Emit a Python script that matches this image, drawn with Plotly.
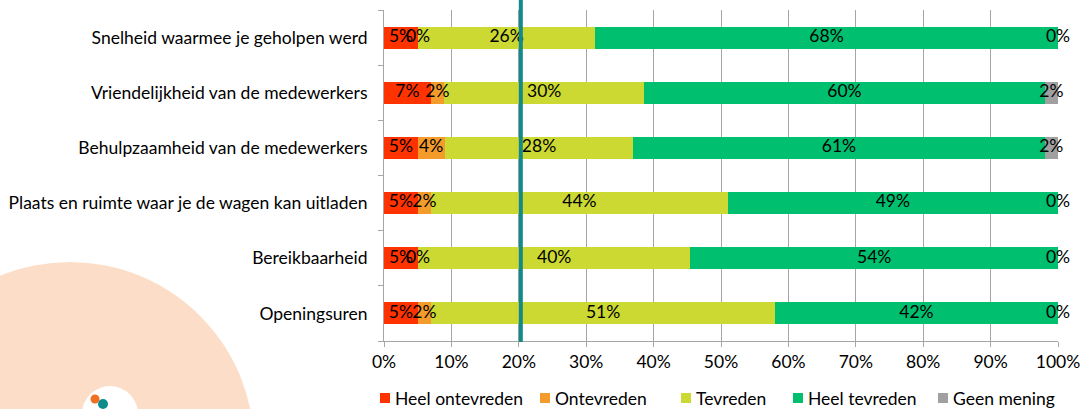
import plotly.graph_objects as go

categories = [
    "Snelheid waarmee je geholpen werd",
    "Vriendelijkheid van de medewerkers",
    "Behulpzaamheid van de medewerkers",
    "Plaats en ruimte waar je de wagen kan uitladen",
    "Bereikbaarheid",
    "Openingsuren",
]
series_names = ["Heel ontevreden", "Ontevreden", "Tevreden", "Heel tevreden", "Geen mening"]
heel_ontevreden = [5, 7, 5, 5, 5, 5]
ontevreden = [0, 2, 4, 2, 0, 2]
tevreden = [26, 30, 28, 44, 40, 51]
heel_tevreden = [68, 60, 61, 49, 54, 42]
geen_mening = [0, 2, 2, 0, 0, 0]
x_tick_values = [0, 10, 20, 30, 40, 50, 60, 70, 80, 90, 100]
x_tick_labels = [f"{v}%" for v in x_tick_values]
reference_line = 20.3

series = [heel_ontevreden, ontevreden, tevreden, heel_tevreden, geen_mening]
colors = ["#ff3300", "#f39c2c", "#ccd932", "#00bf6f", "#a0a0a0"]

FONT = "Lato"
FS = 17.5
W, H = 1084, 409
L, R, T, B = 384, 26, 10, 68
PW, PH = W - L - R, H - T - B

fig = go.Figure()
for name, vals, col in zip(series_names, series, colors):
    fig.add_trace(go.Bar(
        name=name, y=categories, x=vals, orientation="h",
        marker=dict(color=col, line=dict(width=0)),
        hoverinfo="skip", showlegend=False,
    ))

# data labels centred in each (normalised) segment, including zero-width ones
lab_x, lab_y, lab_t = [], [], []
for i, cat in enumerate(categories):
    total = sum(s[i] for s in series)
    cum = 0.0
    for s in series:
        v = s[i] / total * 100
        lab_x.append(cum + v / 2)
        lab_y.append(cat)
        lab_t.append(f"{s[i]}%")
        cum += v
fig.add_trace(go.Scatter(
    x=lab_x, y=lab_y, text=lab_t, mode="text", showlegend=False,
    textfont=dict(family=FONT, size=FS, color="#000000"),
    hoverinfo="skip", cliponaxis=False,
))

def px(xp):
    return (xp - L) / PW

def py(yp):
    return (H - B - yp) / PH

def circle(cx, cy, r, color):
    return dict(type="circle", xref="paper", yref="paper", layer="below",
                x0=px(cx - r), x1=px(cx + r), y0=py(cy + r), y1=py(cy - r),
                fillcolor=color, line=dict(width=0))

shapes = [
    circle(70, 446, 184, "#fcdec8"),
    circle(110, 414, 28, "#ffffff"),
    circle(95, 399, 4.5, "#f07022"),
    circle(103, 404, 5, "#0e8c8c"),
    dict(type="line", xref="x", yref="paper", x0=reference_line, x1=reference_line,
         y0=py(342), y1=py(0), line=dict(color="#138a8a", width=4), layer="above"),
]

# legend (square markers + labels) laid out like the original
legend_left_px = [380, 540, 681, 793, 938]
legend_y_px = 398
annotations = []
for name, col, lx in zip(series_names, colors, legend_left_px):
    shapes.append(dict(type="rect", xref="paper", yref="paper",
                       x0=px(lx), x1=px(lx + 10), y0=py(legend_y_px + 5), y1=py(legend_y_px - 5),
                       fillcolor=col, line=dict(width=0)))
    annotations.append(dict(text=name, xref="paper", yref="paper", x=px(lx + 13), y=py(legend_y_px),
                            xanchor="left", yanchor="middle", showarrow=False,
                            font=dict(family=FONT, size=FS, color="#000000")))

fig.update_layout(
    width=W, height=H,
    margin=dict(l=L, r=R, t=T, b=B, autoexpand=False),
    barmode="stack", barnorm="percent", bargap=0.6,
    plot_bgcolor="rgba(0,0,0,0)", paper_bgcolor="#ffffff",
    font=dict(family=FONT, size=FS, color="#000000"),
    shapes=shapes, annotations=annotations,
    showlegend=False,
    xaxis=dict(range=[0, 100], tickvals=x_tick_values, ticktext=x_tick_labels,
               showgrid=True, gridcolor="#a6a6a6", gridwidth=1, zeroline=False,
               showline=True, linecolor="#a6a6a6", ticks="outside", ticklen=5,
               tickcolor="#a6a6a6", tickfont=dict(family=FONT, size=FS)),
    yaxis=dict(categoryorder="array", categoryarray=categories[::-1],
               showline=True, linecolor="#a6a6a6", ticks="outside", ticklen=5,
               tickcolor="#a6a6a6", tickson="boundaries", showgrid=False,
               tickfont=dict(family=FONT, size=FS), ticklabelstandoff=12),
)

fig.write_html("out.html", config={"displayModeBar": False},
               post_script="document.body.style.margin='0';")
